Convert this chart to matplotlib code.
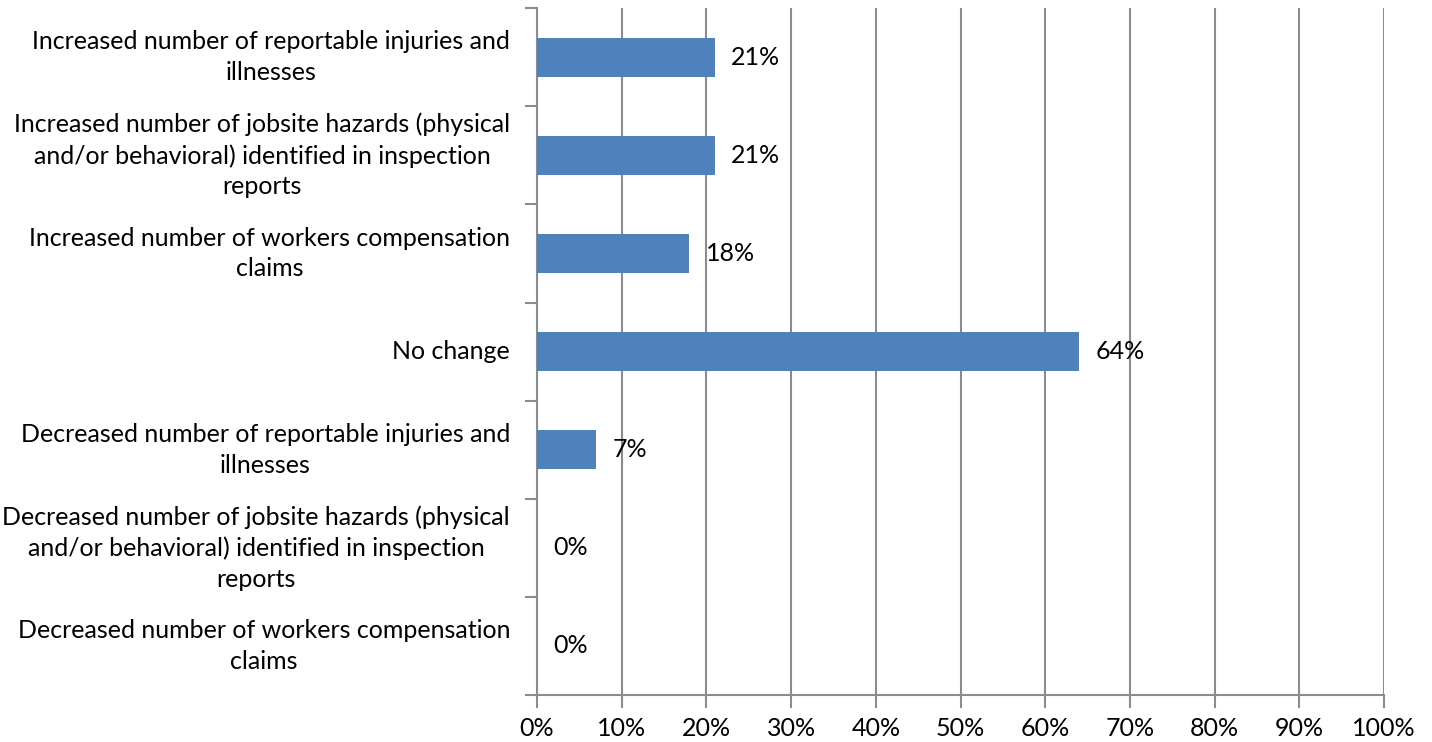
import numpy as np
import matplotlib
matplotlib.use('Agg')
from matplotlib import pyplot as plt
import matplotlib.transforms as mtrans

categories = [
    'Increased number of reportable injuries and\nillnesses',
    'Increased number of jobsite hazards (physical\nand/or behavioral) identified in inspection\nreports',
    'Increased number of workers compensation\nclaims',
    'No change',
    'Decreased number of reportable injuries and\nillnesses',
    'Decreased number of jobsite hazards (physical\nand/or behavioral) identified in inspection\nreports',
    'Decreased number of workers compensation\nclaims',
]
values = [21, 21, 18, 64, 7, 0, 0]
x_ticks = [0, 10, 20, 30, 40, 50, 60, 70, 80, 90, 100]

plt.rcParams['font.family'] = ['Lato', 'DejaVu Sans']
fs = 18

fig = plt.figure(figsize=(14.32, 7.42), dpi=100)
ax = fig.add_axes([0.375, 0.0633, 0.5915, 0.9257])

pos = np.arange(len(categories))
ax.barh(pos, values, height=0.4, color='#4F81BD', zorder=3)

for p, v in zip(pos, values):
    ax.text(v + 1.9, p, str(v) + '%', va='center', ha='left', fontsize=fs, zorder=4)

ax.set_xlim(0, 100)
ax.set_ylim(len(categories) - 0.5, -0.5)
ax.set_xticks(x_ticks)
ax.set_xticklabels([str(t) + '%' for t in x_ticks], fontsize=fs)
ax.set_yticks(pos)
ax.set_yticklabels([])

# category labels drawn by hand so the wrapped ones sit centred on the bars
tr = mtrans.blended_transform_factory(ax.transAxes, ax.transData) + \
    mtrans.ScaledTranslation(-0.27, 0, fig.dpi_scale_trans)
for p, c in zip(pos, categories):
    ax.text(0, p, c, transform=tr, ha='right', va='center', fontsize=fs,
            multialignment='center', linespacing=1.4)
ax.set_yticks(np.arange(-0.5, len(categories)), minor=True)

ax.grid(axis='x', color='#8c8c8c', linewidth=1.5, zorder=0)
for s in ['top', 'right']:
    ax.spines[s].set_visible(False)
for s in ['left', 'bottom']:
    ax.spines[s].set_color('#8c8c8c')
    ax.spines[s].set_linewidth(1.5)

ax.tick_params(axis='y', which='major', length=0)
ax.tick_params(axis='y', which='minor', length=9, width=1.5, color='#8c8c8c')
ax.tick_params(axis='x', length=9, width=1.5, color='#8c8c8c', pad=7)

fig.savefig('out.png', dpi=100)
